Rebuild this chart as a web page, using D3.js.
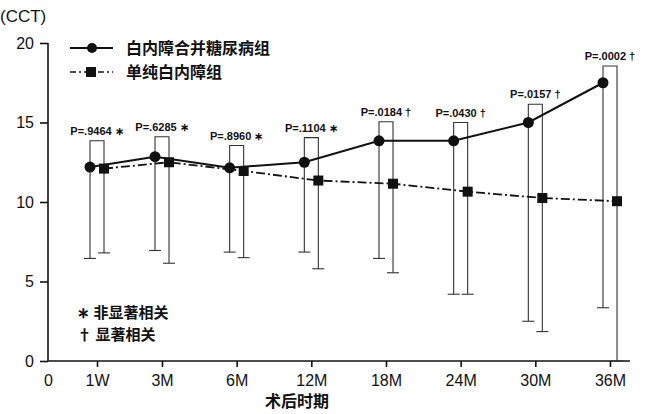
<!DOCTYPE html>
<html>
<head>
<meta charset="utf-8">
<script src="https://cdn.jsdelivr.net/npm/d3@7"></script>
<style>
  body { margin: 0; background: #fff; }
  svg { display: block; }
</style>
</head>
<body>
<svg id="chart" width="645" height="414"></svg>
<script>
// categories on the x axis (the "0" origin sits on the y axis)
const periods = ['1W', '3M', '6M', '12M', '18M', '24M', '30M', '36M'];
const seriesNames = ['白内障合并糖尿病组', '单纯白内障组'];

// means (CCT)
const dmMean = [12.2, 12.85, 12.15, 12.5, 13.85, 13.85, 15.0, 17.5];
const simpleMean = [12.1, 12.5, 11.95, 11.35, 11.15, 10.65, 10.25, 10.05];
// lower end of the error bars
const dmLow = [6.45, 6.95, 6.85, 6.85, 6.45, 4.2, 2.5, 3.35];
const simpleLow = [6.8, 6.15, 6.5, 5.8, 5.55, 4.2, 1.85, 0];
// height of the comparison brackets and their p values
const bracketTop = [13.85, 14.1, 13.55, 14.05, 15.05, 15.0, 16.15, 18.55];
const pLabels = ['P=.9464 ∗', 'P=.6285 ∗', 'P=.8960 ∗', 'P=.1104 ∗',
                 'P=.0184 †', 'P=.0430 †', 'P=.0157 †', 'P=.0002 †'];

const yTicks = [0, 5, 10, 15, 20];

const svg = d3.select('#chart');
const ink = '#111';
const cjk = '"Noto Sans CJK SC", sans-serif';
const latin = '"Liberation Sans", Arial, sans-serif';
const narrow = '"Liberation Sans Narrow", "Liberation Sans", Arial, sans-serif';

const y = d3.scaleLinear().domain([0, 20]).range([361, 43]);
// uneven spacing in the original: origin, 1W, 3M, then regular steps
const x = d3.scaleLinear().domain([-1, 0, 1, 7]).range([48, 97, 162, 610]);
const off = 7;

// axes
svg.append('g')
  .attr('transform', 'translate(48,0)')
  .call(d3.axisLeft(y).tickValues(yTicks).tickSize(8).tickPadding(6))
  .call(g => g.select('.domain').attr('d', 'M0,' + y(20) + 'V' + y(0)))
  .call(g => g.selectAll('line, path').attr('stroke', ink).attr('stroke-width', 1.6))
  .call(g => g.selectAll('text').attr('font-family', latin).attr('font-size', 16).attr('fill', ink));

const xAxis = d3.axisBottom(x)
  .tickValues(d3.range(-1, periods.length))
  .tickFormat(i => i < 0 ? '0' : periods[i])
  .tickSize(6).tickPadding(8);

svg.append('g')
  .attr('transform', 'translate(0,' + y(0) + ')')
  .call(xAxis)
  .call(g => g.select('.domain').attr('d', 'M48,0H630'))
  .call(g => g.selectAll('line, path').attr('stroke', ink).attr('stroke-width', 1.6))
  .call(g => g.selectAll('.tick').filter(i => i < 0).select('line').remove())
  .call(g => g.selectAll('text').attr('font-family', latin).attr('font-size', 16).attr('fill', ink));

svg.append('text')
  .attr('x', 0).attr('y', 22)
  .attr('font-family', latin).attr('font-size', 17).attr('fill', ink)
  .text('(CCT)');

svg.append('text')
  .attr('x', 297).attr('y', 407)
  .attr('text-anchor', 'middle')
  .attr('font-family', cjk).attr('font-weight', 'bold').attr('font-size', 16).attr('fill', ink)
  .text('术后时期');

// error bars + brackets
const bars = svg.append('g').attr('stroke', '#333').attr('stroke-width', 1.1).attr('fill', 'none');
periods.forEach((p, i) => {
  const xa = x(i) - off, xb = x(i) + off;
  bars.append('path')
    .attr('d', 'M' + xa + ',' + y(dmLow[i]) + 'V' + y(bracketTop[i]) + 'H' + xb + 'V' + y(simpleLow[i]));
  bars.append('line')
    .attr('x1', xa - 6).attr('x2', xa + 6)
    .attr('y1', y(dmLow[i])).attr('y2', y(dmLow[i]));
  bars.append('line')
    .attr('x1', xb - 6).attr('x2', xb + 6)
    .attr('y1', y(simpleLow[i])).attr('y2', y(simpleLow[i]));
  svg.append('text')
    .attr('x', x(i)).attr('y', y(bracketTop[i]) - 6)
    .attr('text-anchor', 'middle')
    .attr('font-family', narrow).attr('font-weight', 'bold').attr('font-size', 11).attr('fill', ink)
    .text(pLabels[i]);
});

// lines
const dmLine = d3.line().x((d, i) => x(i) - off).y(d => y(d));
const simpleLine = d3.line().x((d, i) => x(i) + off).y(d => y(d));

svg.append('path').datum(simpleMean)
  .attr('d', simpleLine).attr('fill', 'none').attr('stroke', ink)
  .attr('stroke-width', 1.8).attr('stroke-dasharray', '9,3,2,3');
svg.append('path').datum(dmMean)
  .attr('d', dmLine).attr('fill', 'none').attr('stroke', ink).attr('stroke-width', 2);

svg.append('g').selectAll('rect').data(simpleMean).enter().append('rect')
  .attr('x', (d, i) => x(i) + off - 5).attr('y', d => y(d) - 5)
  .attr('width', 10).attr('height', 10).attr('fill', ink);
svg.append('g').selectAll('circle').data(dmMean).enter().append('circle')
  .attr('cx', (d, i) => x(i) - off).attr('cy', d => y(d))
  .attr('r', 5.5).attr('fill', ink);

// legend
const legend = svg.append('g');
seriesNames.forEach((name, i) => {
  const ly = 48 + i * 24;
  legend.append('line')
    .attr('x1', 70).attr('x2', 113).attr('y1', ly).attr('y2', ly)
    .attr('stroke', ink).attr('stroke-width', i ? 1.5 : 2)
    .attr('stroke-dasharray', i ? '6,3,2,3' : null);
  if (i) {
    legend.append('rect').attr('x', 86).attr('y', ly - 5).attr('width', 10).attr('height', 10).attr('fill', ink);
  } else {
    legend.append('circle').attr('cx', 92).attr('cy', ly).attr('r', 5).attr('fill', ink);
  }
  legend.append('text')
    .attr('x', 126).attr('y', ly + 6)
    .attr('font-family', cjk).attr('font-weight', 'bold').attr('font-size', 16).attr('fill', ink)
    .text(name);
});

// significance notes
const notes = ['∗ 非显著相关', '† 显著相关'];
notes.forEach((t, i) => {
  svg.append('text')
    .attr('x', 77).attr('y', 318 + i * 22)
    .attr('font-family', cjk).attr('font-weight', 'bold').attr('font-size', 15).attr('fill', ink)
    .text(t);
});
</script>
</body>
</html>
